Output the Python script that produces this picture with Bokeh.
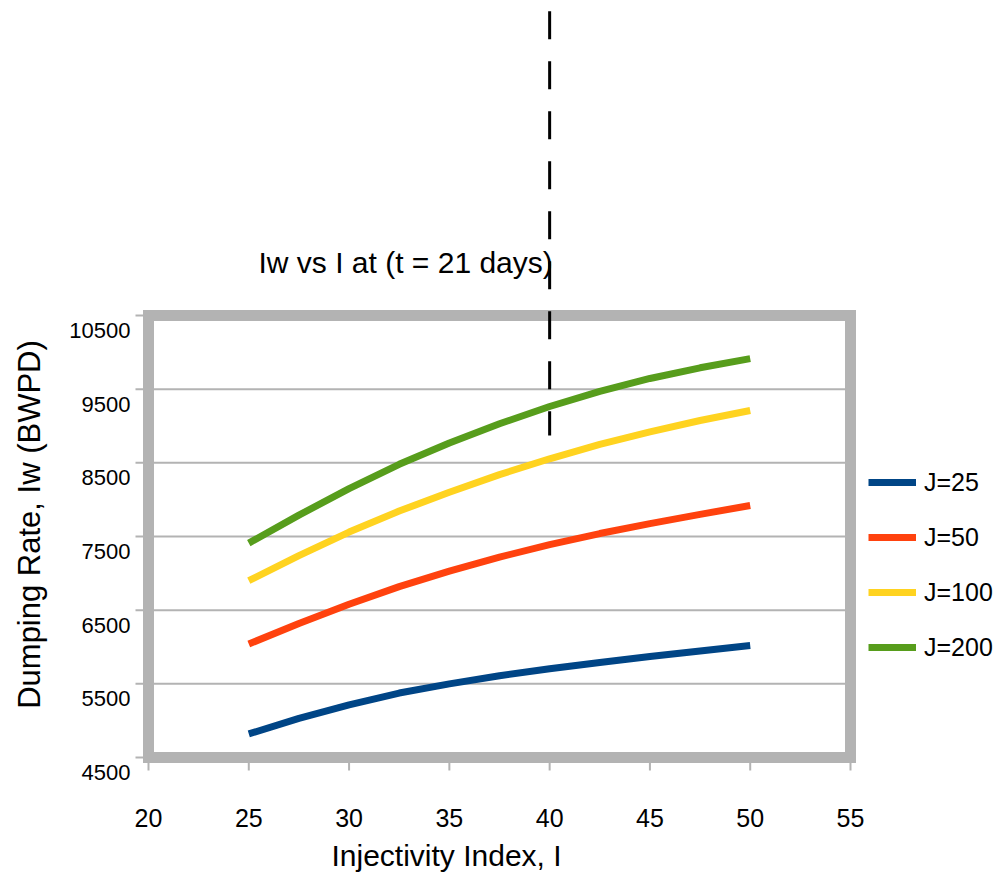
import math
from bokeh.plotting import figure
from bokeh.models import FixedTicker, Legend, LegendItem, Range1d, Title
from bokeh.core.properties import value
from bokeh.embed import file_html
from bokeh.resources import INLINE

# Injectivity index I (x) and dumping rate Iw in BWPD for each J
injectivity = [25, 27.5, 30, 32.5, 35, 37.5, 40, 42.5, 45, 47.5, 50]
iw_j25 = [4820, 5030, 5215, 5375, 5500, 5610, 5705, 5790, 5870, 5945, 6020]
iw_j50 = [6040, 6320, 6580, 6820, 7030, 7220, 7390, 7540, 7675, 7800, 7920]
iw_j100 = [6900, 7240, 7560, 7845, 8100, 8340, 8555, 8750, 8920, 9075, 9210]
iw_j200 = [7410, 7790, 8150, 8480, 8770, 9030, 9265, 9470, 9645, 9790, 9915]

series_names = ["J=25", "J=50", "J=100", "J=200"]
series_colors = ["#004586", "#ff420e", "#ffd320", "#579d1c"]

x_ticks = [20, 25, 30, 35, 40, 45, 50, 55]
y_ticks = [4500, 5500, 6500, 7500, 8500, 9500, 10500]
y_tick_labels = [str(v) for v in y_ticks]

# vertical dashed reference line at I = 40
ref_x = 40
ref_y_top = 14630
ref_y_bottom = 8870

title_text = "Iw vs I at (t = 21 days)"
x_title_text = "Injectivity Index, I"
y_title_text = "Dumping Rate, Iw (BWPD)"

FONT = "Liberation Sans"
GRAY = "#b3b3b3"

# chart box spans I 20..55 and Iw 4500..10500; the frame reaches past it so
# the reference line, titles and legend can sit around the box
X0, X1 = 20, 55
Y0, Y1 = 4500, 10500
PX_PER_X = 702 / (X1 - X0)
PX_PER_Y = 442 / (Y1 - Y0)
BELOW_BOX = 33  # frame extends this many pixels under the box

p = figure(width=1000, height=891, output_backend="svg", toolbar_location=None,
           x_range=Range1d(X0 - 148 / PX_PER_X, X1 + 150 / PX_PER_X),
           y_range=Range1d(Y0 - BELOW_BOX / PX_PER_Y, Y1 + 315 / PX_PER_Y),
           y_axis_location=None,
           min_border_left=0, min_border_right=0,
           min_border_top=0, min_border_bottom=891 - 757 - BELOW_BOX)

p.background_fill_color = "white"
p.border_fill_color = "white"
p.outline_line_color = None
p.xgrid.grid_line_color = None
p.ygrid.grid_line_color = None

# x axis carries only the numbers; its tick marks are drawn under the box
xa = p.xaxis[0]
xa.ticker = FixedTicker(ticks=x_ticks)
xa.axis_line_color = None
xa.major_tick_line_color = None
xa.major_tick_in = 0
xa.major_tick_out = 0
xa.minor_tick_line_color = None
xa.major_label_text_font = FONT
xa.major_label_text_font_size = "25px"
xa.major_label_text_color = "#000000"
xa.major_label_standoff = 18

p.add_layout(Title(text=x_title_text, align="left", offset=331,
                   text_font=FONT, text_font_size="30px",
                   text_font_style="normal", text_color="#000000",
                   standoff=15), "below")

# horizontal grid lines inside the box
inner = y_ticks[1:-1]
p.segment(x0=[X0] * len(inner), x1=[X1] * len(inner), y0=inner, y1=inner,
          line_color=GRAY, line_width=2)

# tick marks outside the box
tick_x = 13 / PX_PER_X
tick_y = 13 / PX_PER_Y
p.segment(x0=[X0] * len(y_ticks), x1=[X0 - tick_x] * len(y_ticks),
          y0=y_ticks, y1=y_ticks, line_color=GRAY, line_width=2)
p.segment(x0=x_ticks, x1=x_ticks, y0=[Y0] * len(x_ticks),
          y1=[Y0 - tick_y] * len(x_ticks), line_color=GRAY, line_width=2)

# y tick numbers, set a little below each tick
p.text(x=[X0] * len(y_ticks), y=y_ticks, text=y_tick_labels,
       x_offset=-18, y_offset=15, text_align="right", text_baseline="middle",
       text_font=value(FONT), text_font_size="22px", text_color="#000000")

items = []
for name, color, vals in zip(series_names, series_colors,
                             [iw_j25, iw_j50, iw_j100, iw_j200]):
    r = p.line(injectivity, vals, line_color=color, line_width=7)
    items.append(LegendItem(label=name, renderers=[r]))

# heavy grey box around the plotting area
p.quad(left=[X0], right=[X1], bottom=[Y0], top=[Y1], fill_color=None,
       line_color=GRAY, line_width=11, line_join="miter")

# dashed marker at I = 40
p.segment(x0=[ref_x], x1=[ref_x], y0=[ref_y_top], y1=[ref_y_bottom],
          line_color="black", line_width=3, line_dash="28 22")

# chart title and y-axis title
p.text(x=[X0 + 110 / PX_PER_X], y=[Y1 + 53 / PX_PER_Y], text=[title_text],
       text_align="left", text_baseline="middle", text_font=value(FONT),
       text_font_size="30px", text_color="#000000")
p.text(x=[X0 - 119 / PX_PER_X], y=[Y1 - 209 / PX_PER_Y], text=[y_title_text],
       angle=math.pi / 2, text_align="center", text_baseline="middle",
       text_font=value(FONT), text_font_size="31px", text_color="#000000")

legend = Legend(items=items, location=(868, 108 + BELOW_BOX - 13),
                orientation="vertical",
                glyph_width=48, glyph_height=30, label_height=30,
                label_standoff=8, spacing=25, padding=0, margin=0,
                border_line_color=None, background_fill_color=None,
                label_text_font=FONT, label_text_font_size="25px",
                label_text_color="#000000")
p.add_layout(legend, "center")

open("out.html", "w").write(file_html(p, INLINE))
